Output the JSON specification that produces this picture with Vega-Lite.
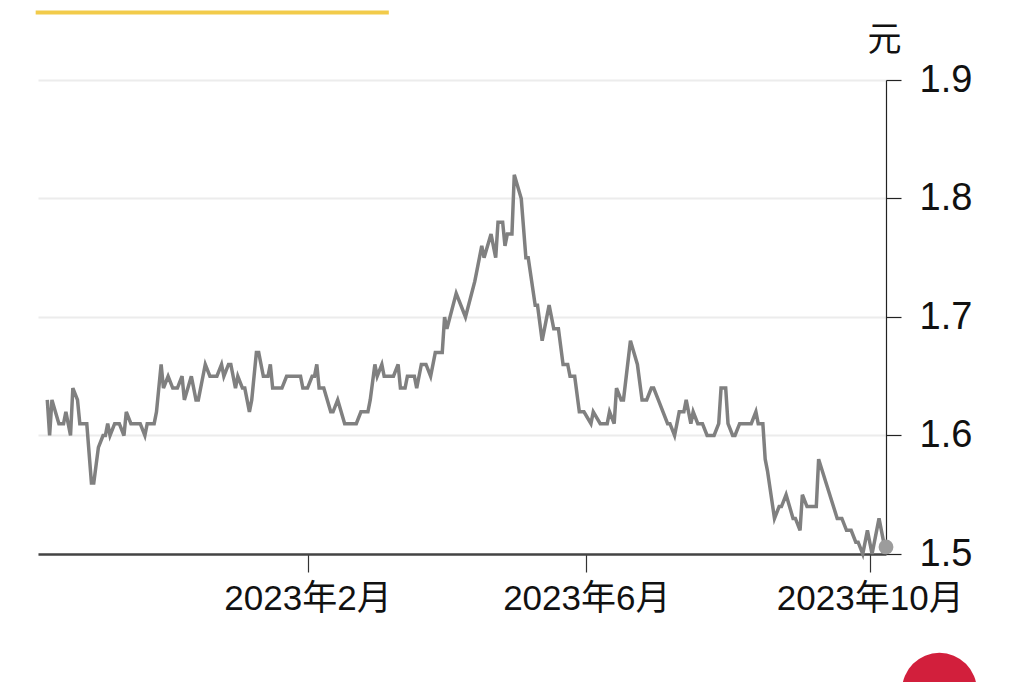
{
  "$schema": "https://vega.github.io/schema/vega-lite/v6.json",
  "width": 848,
  "height": 474,
  "autosize": "none",
  "padding": {"left": 38, "top": 80, "right": 138, "bottom": 128},
  "background": "white",
  "config": {
    "view": {"stroke": null},
    "font": "Liberation Sans, Noto Sans CJK SC"
  },
  "datasets": {
    "price": [
      {"date": "2022-10-12", "price": 1.63}, {"date": "2022-10-13", "price": 1.60}, {"date": "2022-10-14", "price": 1.63},
      {"date": "2022-10-17", "price": 1.61}, {"date": "2022-10-19", "price": 1.61}, {"date": "2022-10-20", "price": 1.62},
      {"date": "2022-10-22", "price": 1.60}, {"date": "2022-10-23", "price": 1.64}, {"date": "2022-10-25", "price": 1.63},
      {"date": "2022-10-26", "price": 1.61}, {"date": "2022-10-29", "price": 1.61}, {"date": "2022-10-31", "price": 1.56},
      {"date": "2022-11-01", "price": 1.56}, {"date": "2022-11-03", "price": 1.59}, {"date": "2022-11-05", "price": 1.60},
      {"date": "2022-11-06", "price": 1.60}, {"date": "2022-11-07", "price": 1.61}, {"date": "2022-11-08", "price": 1.60},
      {"date": "2022-11-10", "price": 1.61}, {"date": "2022-11-12", "price": 1.61}, {"date": "2022-11-14", "price": 1.60},
      {"date": "2022-11-15", "price": 1.62}, {"date": "2022-11-17", "price": 1.61}, {"date": "2022-11-21", "price": 1.61},
      {"date": "2022-11-23", "price": 1.60}, {"date": "2022-11-24", "price": 1.61}, {"date": "2022-11-27", "price": 1.61},
      {"date": "2022-11-28", "price": 1.62}, {"date": "2022-11-30", "price": 1.66}, {"date": "2022-12-01", "price": 1.64},
      {"date": "2022-12-03", "price": 1.65}, {"date": "2022-12-05", "price": 1.64}, {"date": "2022-12-07", "price": 1.64},
      {"date": "2022-12-09", "price": 1.65}, {"date": "2022-12-10", "price": 1.63}, {"date": "2022-12-13", "price": 1.65},
      {"date": "2022-12-15", "price": 1.63}, {"date": "2022-12-16", "price": 1.63}, {"date": "2022-12-18", "price": 1.65},
      {"date": "2022-12-19", "price": 1.66}, {"date": "2022-12-21", "price": 1.65}, {"date": "2022-12-24", "price": 1.65},
      {"date": "2022-12-26", "price": 1.66}, {"date": "2022-12-27", "price": 1.65}, {"date": "2022-12-29", "price": 1.66},
      {"date": "2022-12-30", "price": 1.66}, {"date": "2023-01-01", "price": 1.64}, {"date": "2023-01-02", "price": 1.65},
      {"date": "2023-01-04", "price": 1.64}, {"date": "2023-01-05", "price": 1.64}, {"date": "2023-01-07", "price": 1.62},
      {"date": "2023-01-08", "price": 1.63}, {"date": "2023-01-10", "price": 1.67}, {"date": "2023-01-11", "price": 1.67},
      {"date": "2023-01-13", "price": 1.65}, {"date": "2023-01-15", "price": 1.65}, {"date": "2023-01-16", "price": 1.66},
      {"date": "2023-01-17", "price": 1.64}, {"date": "2023-01-21", "price": 1.64}, {"date": "2023-01-23", "price": 1.65},
      {"date": "2023-01-29", "price": 1.65}, {"date": "2023-01-30", "price": 1.64}, {"date": "2023-02-01", "price": 1.64},
      {"date": "2023-02-03", "price": 1.65}, {"date": "2023-02-04", "price": 1.65}, {"date": "2023-02-05", "price": 1.66},
      {"date": "2023-02-06", "price": 1.64}, {"date": "2023-02-08", "price": 1.64}, {"date": "2023-02-11", "price": 1.62},
      {"date": "2023-02-12", "price": 1.62}, {"date": "2023-02-14", "price": 1.63}, {"date": "2023-02-17", "price": 1.61},
      {"date": "2023-02-22", "price": 1.61}, {"date": "2023-02-24", "price": 1.62}, {"date": "2023-02-27", "price": 1.62},
      {"date": "2023-02-28", "price": 1.63}, {"date": "2023-03-02", "price": 1.66}, {"date": "2023-03-03", "price": 1.65},
      {"date": "2023-03-05", "price": 1.66}, {"date": "2023-03-06", "price": 1.65}, {"date": "2023-03-10", "price": 1.65},
      {"date": "2023-03-12", "price": 1.66}, {"date": "2023-03-13", "price": 1.64}, {"date": "2023-03-15", "price": 1.64},
      {"date": "2023-03-16", "price": 1.65}, {"date": "2023-03-19", "price": 1.65}, {"date": "2023-03-20", "price": 1.64},
      {"date": "2023-03-22", "price": 1.66}, {"date": "2023-03-24", "price": 1.66}, {"date": "2023-03-26", "price": 1.65},
      {"date": "2023-03-28", "price": 1.67}, {"date": "2023-03-31", "price": 1.67}, {"date": "2023-04-01", "price": 1.70},
      {"date": "2023-04-02", "price": 1.69}, {"date": "2023-04-06", "price": 1.72}, {"date": "2023-04-10", "price": 1.70},
      {"date": "2023-04-14", "price": 1.73}, {"date": "2023-04-15", "price": 1.74}, {"date": "2023-04-17", "price": 1.76},
      {"date": "2023-04-18", "price": 1.75}, {"date": "2023-04-21", "price": 1.77}, {"date": "2023-04-23", "price": 1.75},
      {"date": "2023-04-24", "price": 1.78}, {"date": "2023-04-26", "price": 1.78}, {"date": "2023-04-27", "price": 1.76},
      {"date": "2023-04-28", "price": 1.77}, {"date": "2023-04-30", "price": 1.77}, {"date": "2023-05-01", "price": 1.82},
      {"date": "2023-05-04", "price": 1.80}, {"date": "2023-05-06", "price": 1.75}, {"date": "2023-05-07", "price": 1.75},
      {"date": "2023-05-10", "price": 1.71}, {"date": "2023-05-11", "price": 1.71}, {"date": "2023-05-13", "price": 1.68},
      {"date": "2023-05-16", "price": 1.71}, {"date": "2023-05-18", "price": 1.69}, {"date": "2023-05-20", "price": 1.69},
      {"date": "2023-05-22", "price": 1.66}, {"date": "2023-05-24", "price": 1.66}, {"date": "2023-05-25", "price": 1.65},
      {"date": "2023-05-27", "price": 1.65}, {"date": "2023-05-29", "price": 1.62}, {"date": "2023-05-31", "price": 1.62},
      {"date": "2023-06-03", "price": 1.61}, {"date": "2023-06-04", "price": 1.62}, {"date": "2023-06-07", "price": 1.61},
      {"date": "2023-06-10", "price": 1.61}, {"date": "2023-06-11", "price": 1.62}, {"date": "2023-06-13", "price": 1.61},
      {"date": "2023-06-14", "price": 1.64}, {"date": "2023-06-16", "price": 1.63}, {"date": "2023-06-17", "price": 1.63},
      {"date": "2023-06-20", "price": 1.68}, {"date": "2023-06-23", "price": 1.66}, {"date": "2023-06-25", "price": 1.63},
      {"date": "2023-06-27", "price": 1.63}, {"date": "2023-06-29", "price": 1.64}, {"date": "2023-06-30", "price": 1.64},
      {"date": "2023-07-02", "price": 1.63}, {"date": "2023-07-06", "price": 1.61}, {"date": "2023-07-07", "price": 1.61},
      {"date": "2023-07-09", "price": 1.60}, {"date": "2023-07-11", "price": 1.62}, {"date": "2023-07-13", "price": 1.62},
      {"date": "2023-07-14", "price": 1.63}, {"date": "2023-07-16", "price": 1.61}, {"date": "2023-07-17", "price": 1.62},
      {"date": "2023-07-19", "price": 1.61}, {"date": "2023-07-21", "price": 1.61}, {"date": "2023-07-23", "price": 1.60},
      {"date": "2023-07-26", "price": 1.60}, {"date": "2023-07-28", "price": 1.61}, {"date": "2023-07-29", "price": 1.64},
      {"date": "2023-07-31", "price": 1.64}, {"date": "2023-08-01", "price": 1.61}, {"date": "2023-08-03", "price": 1.60},
      {"date": "2023-08-04", "price": 1.60}, {"date": "2023-08-06", "price": 1.61}, {"date": "2023-08-11", "price": 1.61},
      {"date": "2023-08-13", "price": 1.62}, {"date": "2023-08-14", "price": 1.61}, {"date": "2023-08-16", "price": 1.61},
      {"date": "2023-08-17", "price": 1.58}, {"date": "2023-08-18", "price": 1.57}, {"date": "2023-08-21", "price": 1.53},
      {"date": "2023-08-23", "price": 1.54}, {"date": "2023-08-24", "price": 1.54}, {"date": "2023-08-26", "price": 1.55},
      {"date": "2023-08-29", "price": 1.53}, {"date": "2023-08-30", "price": 1.53}, {"date": "2023-09-01", "price": 1.52},
      {"date": "2023-09-02", "price": 1.55}, {"date": "2023-09-04", "price": 1.54}, {"date": "2023-09-08", "price": 1.54},
      {"date": "2023-09-09", "price": 1.58}, {"date": "2023-09-17", "price": 1.53}, {"date": "2023-09-19", "price": 1.53},
      {"date": "2023-09-21", "price": 1.52}, {"date": "2023-09-23", "price": 1.52}, {"date": "2023-09-25", "price": 1.51},
      {"date": "2023-09-26", "price": 1.51}, {"date": "2023-09-28", "price": 1.50}, {"date": "2023-09-30", "price": 1.52},
      {"date": "2023-10-02", "price": 1.50}, {"date": "2023-10-05", "price": 1.53}, {"date": "2023-10-07", "price": 1.51},
      {"date": "2023-10-08", "price": 1.506}
    ],
    "deco": [
      {"date": "2022-10-07", "date2": "2023-03-08", "price": 1.957}
    ],
    "logo": [
      {"date": "2023-10-31", "price": 1.385}
    ]
  },
  "encoding": {
    "x": {
      "field": "date",
      "type": "temporal",
      "scale": {
        "type": "utc",
        "domain": [
          {"year": 2022, "month": 10, "date": 8, "utc": true},
          {"year": 2023, "month": 10, "date": 8, "utc": true}
        ]
      },
      "axis": {
        "title": null,
        "grid": false,
        "values": [
          {"year": 2023, "month": 2, "date": 1, "utc": true},
          {"year": 2023, "month": 6, "date": 1, "utc": true},
          {"year": 2023, "month": 10, "date": 1, "utc": true}
        ],
        "labelExpr": "utcFormat(datum.value, '%Y') + '年' + (utcmonth(datum.value) + 1) + '月'",
        "labelFontSize": 35,
        "labelColor": "#111",
        "labelPadding": 9,
        "labelLimit": 0,
        "labelFlush": false,
        "labelOverlap": false,
        "domainColor": "#444",
        "domainWidth": 2.5,
        "tickColor": "#333",
        "tickWidth": 1.2,
        "tickSize": 18
      }
    },
    "y": {
      "field": "price",
      "type": "quantitative",
      "scale": {"domain": [1.5, 1.9], "zero": false, "nice": false},
      "axis": {
        "orient": "right",
        "values": [1.5, 1.6, 1.7, 1.8, 1.9],
        "format": ".1f",
        "labelFontSize": 38,
        "labelColor": "#111",
        "labelPadding": 18,
        "labelFlush": false,
        "domainColor": "#222",
        "domainWidth": 1.2,
        "tickColor": "#222",
        "tickWidth": 1.2,
        "tickSize": 15,
        "grid": true,
        "gridColor": "#ececec",
        "gridWidth": 2,
        "title": "元",
        "titleAngle": 0,
        "titleX": -2,
        "titleY": -40,
        "titleAlign": "center",
        "titleBaseline": "middle",
        "titleFontSize": 34,
        "titleFontWeight": "normal",
        "titleColor": "#111"
      }
    }
  },
  "layer": [
    {
      "data": {"name": "deco"},
      "mark": {"type": "rule", "color": "#f2cb4a", "strokeWidth": 4, "clip": false},
      "encoding": {
        "x2": {"field": "date2"}
      }
    },
    {
      "data": {"name": "price"},
      "mark": {"type": "line", "color": "#808080", "strokeWidth": 3.5}
    },
    {
      "data": {"name": "price"},
      "transform": [{"filter": "utcyear(datum.date) == 2023 && utcmonth(datum.date) == 9 && utcdate(datum.date) == 8"}],
      "mark": {"type": "circle", "color": "#9c9c9c", "size": 220, "opacity": 1, "clip": false}
    },
    {
      "data": {"name": "logo"},
      "mark": {"type": "circle", "color": "#d21f3c", "size": 5600, "opacity": 1, "clip": false}
    }
  ]
}
